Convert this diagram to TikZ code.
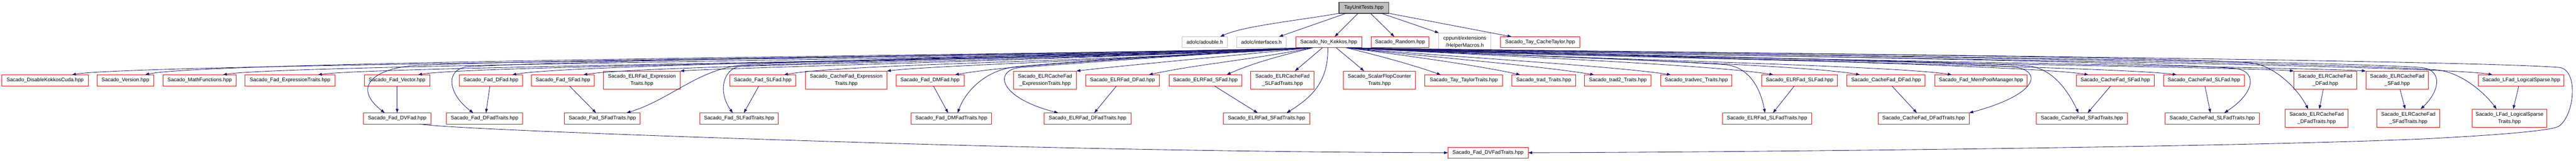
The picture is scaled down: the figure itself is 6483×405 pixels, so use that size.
\documentclass[tikz,border=0pt]{standalone}
\usepackage{fontspec}
\setmainfont{Liberation Sans}
\usetikzlibrary{arrows.meta}
\definecolor{edgeblue}{RGB}{25,25,112}
\definecolor{boxred}{RGB}{255,0,0}
\definecolor{extgrey}{RGB}{191,191,191}
\definecolor{rootfill}{RGB}{191,191,191}
\definecolor{rootline}{RGB}{64,64,64}
\tikzset{
  box/.style={draw=boxred, line width=1.2pt, fill=white, inner sep=0pt, outer sep=0pt,
    minimum height=28pt, align=center, font=\fontsize{13}{18}\selectfont},
  two/.style={minimum height=46pt},
  ext/.style={draw=extgrey},
  rootbox/.style={draw=rootline, fill=rootfill, line width=1.8pt},
  e/.style={draw=edgeblue, line width=1.1pt, -{Triangle[length=10pt,width=7pt]}}
}
\newcommand\mynode[6][]{\node[box,#1,minimum width=#5pt] (#2) at (#3,#4) {#6};}
\begin{document}
\begin{tikzpicture}[x=1pt,y=-1pt]
\fill[white] (0,0) rectangle (6483,405);
\useasboundingbox (0,0) rectangle (6483,405);

% level 0
\mynode[rootbox]{root}{3432.5}{19.5}{125}{TayUnitTests.hpp}
% level 1
\mynode[ext]{adouble}{3032}{106.5}{114}{adolc/adouble.h}
\mynode[ext]{interfaces}{3174.5}{106.5}{125}{adolc/interfaces.h}
\mynode{nk}{3344}{106.5}{166}{Sacado\_No\_Kokkos.hpp}
\mynode{random}{3523.5}{106.5}{145}{Sacado\_Random.hpp}
\mynode[ext,two]{cppunit}{3686.5}{106}{131}{cppunit/extensions\\/HelperMacros.h}
\mynode{cachetaylor}{3876}{106.5}{200}{Sacado\_Tay\_CacheTaylor.hpp}
% level 2
\mynode{n1}{113.5}{202.5}{217}{Sacado\_DisableKokkosCuda.hpp}
\mynode{n2}{315.5}{202.5}{143}{Sacado\_Version.hpp}
\mynode{n3}{502.5}{202.5}{185}{Sacado\_MathFunctions.hpp}
\mynode{n4}{730}{202.5}{226}{Sacado\_Fad\_ExpressionTraits.hpp}
\mynode{n5}{999.5}{202.5}{165}{Sacado\_Fad\_Vector.hpp}
\mynode{n6}{1235.5}{202.5}{159}{Sacado\_Fad\_DFad.hpp}
\mynode{n7}{1417}{202.5}{158}{Sacado\_Fad\_SFad.hpp}
\mynode[two]{n8}{1615.5}{202}{193}{Sacado\_ELRFad\_Expression\\Traits.hpp}
\mynode{n9}{1919.5}{202.5}{165}{Sacado\_Fad\_SLFad.hpp}
\mynode[two]{n10}{2129.5}{202}{205}{Sacado\_CacheFad\_Expression\\Traits.hpp}
\mynode{n11}{2340.5}{202.5}{171}{Sacado\_Fad\_DMFad.hpp}
\mynode[two]{n12}{2630}{202}{158}{Sacado\_ELRCacheFad\\\_ExpressionTraits.hpp}
\mynode{n13}{2825}{202.5}{186}{Sacado\_ELRFad\_DFad.hpp}
\mynode{n14}{3033.5}{202.5}{183}{Sacado\_ELRFad\_SFad.hpp}
\mynode[two]{n15}{3227.5}{202}{159}{Sacado\_ELRCacheFad\\\_SLFadTraits.hpp}
\mynode[two]{n16}{3471.5}{202}{181}{Sacado\_ScalarFlopCounter\\Traits.hpp}
\mynode{n17}{3684}{202.5}{196}{Sacado\_Tay\_TaylorTraits.hpp}
\mynode{n18}{3885}{202.5}{160}{Sacado\_trad\_Traits.hpp}
\mynode{n19}{4071.5}{202.5}{167}{Sacado\_trad2\_Traits.hpp}
\mynode{n20}{4269}{202.5}{180}{Sacado\_tradvec\_Traits.hpp}
\mynode{n21}{4529}{202.5}{190}{Sacado\_ELRFad\_SLFad.hpp}
\mynode{n22}{4746.5}{202.5}{197}{Sacado\_CacheFad\_DFad.hpp}
\mynode{n23}{4985.5}{202.5}{233}{Sacado\_Fad\_MemPoolManager.hpp}
\mynode{n24}{5323.5}{202.5}{195}{Sacado\_CacheFad\_SFad.hpp}
\mynode{n25}{5546.5}{202.5}{203}{Sacado\_CacheFad\_SLFad.hpp}
\mynode[two]{n26}{5852}{202}{158}{Sacado\_ELRCacheFad\\\_DFad.hpp}
\mynode[two]{n27}{6033}{202}{158}{Sacado\_ELRCacheFad\\\_SFad.hpp}
\mynode{n28}{6345}{202.5}{216}{Sacado\_LFad\_LogicalSparse.hpp}
% level 3
\mynode{m1}{999.5}{298.5}{169}{Sacado\_Fad\_DVFad.hpp}
\mynode{m2}{1219.5}{298.5}{191}{Sacado\_Fad\_DFadTraits.hpp}
\mynode{m3}{1516}{298.5}{190}{Sacado\_Fad\_SFadTraits.hpp}
\mynode{m4}{1860}{298.5}{198}{Sacado\_Fad\_SLFadTraits.hpp}
\mynode{m5}{2394}{298.5}{202}{Sacado\_Fad\_DMFadTraits.hpp}
\mynode{m6}{2737}{298.5}{218}{Sacado\_ELRFad\_DFadTraits.hpp}
\mynode{m7}{3187.5}{298.5}{217}{Sacado\_ELRFad\_SFadTraits.hpp}
\mynode{m8}{4447}{298.5}{224}{Sacado\_ELRFad\_SLFadTraits.hpp}
\mynode{m9}{4841}{298.5}{230}{Sacado\_CacheFad\_DFadTraits.hpp}
\mynode{m10}{5239.5}{298.5}{229}{Sacado\_CacheFad\_SFadTraits.hpp}
\mynode{m11}{5567.5}{298.5}{237}{Sacado\_CacheFad\_SLFadTraits.hpp}
\mynode[two]{m12}{5830}{298}{158}{Sacado\_ELRCacheFad\\\_DFadTraits.hpp}
\mynode[two]{m13}{6061}{298}{158}{Sacado\_ELRCacheFad\\\_SFadTraits.hpp}
\mynode[two]{m14}{6315.5}{298}{189}{Sacado\_LFad\_LogicalSparse\\Traits.hpp}
% level 4
\mynode{dvt}{3745}{385}{202}{Sacado\_Fad\_DVFadTraits.hpp}

% root edges
\draw[e] (root.south west) .. controls (3280,50) and (3130,65) .. ([xshift=39pt]adouble.north);
\draw[e] ([xshift=-44.5pt]root.south) -- ([xshift=44.5pt]interfaces.north);
\draw[e] ([xshift=-14.5pt]root.south) -- ([xshift=15pt]nk.north);
\draw[e] ([xshift=16.5pt]root.south) -- ([xshift=-14.5pt]random.north);
\draw[e] ([xshift=43.5pt]root.south) -- (cppunit.north west);
\draw[e] (root.south east) -- ([xshift=-72pt]cachetaylor.north);

% No_Kokkos -> level 2, left side
\draw[e] ([xshift=-52pt]nk.south) .. controls (2760,145) and (341,160) .. ([xshift=67.5pt]n1.north);
\draw[e] ([xshift=-50pt]nk.south) .. controls (2780,138) and (525,152) .. ([xshift=49.5pt]n2.north);
\draw[e] ([xshift=-49pt]nk.south) .. controls (2790,146) and (721,162) .. ([xshift=58.5pt]n3.north);
\draw[e] ([xshift=-48pt]nk.south) .. controls (2797,150) and (960,166) .. ([xshift=70pt]n4.north);
\draw[e] ([xshift=-47pt]nk.south) .. controls (2800,152) and (1212,162) .. ([xshift=52.5pt]n5.north);
\draw[e] ([xshift=-47pt]nk.south) .. controls (2810,142) and (1449,160) .. ([xshift=53.5pt]n6.north);
\draw[e] ([xshift=-46pt]nk.south) .. controls (2820,150) and (1628,163) .. ([xshift=51pt]n7.north);
\draw[e] ([xshift=-46pt]nk.south) .. controls (2830,146) and (1850,170) .. (n8.north east);
\draw[e] ([xshift=-45pt]nk.south) .. controls (2840,154) and (2133,160) .. ([xshift=53.5pt]n9.north);
\draw[e] ([xshift=-45pt]nk.south) .. controls (2860,150) and (2350,165) .. (n10.north east);
\draw[e] ([xshift=-44pt]nk.south) .. controls (2900,145) and (2553,162) .. ([xshift=62.5pt]n11.north);
\draw[e] ([xshift=-44pt]nk.south) .. controls (3000,150) and (2820,166) .. (n12.north east);
\draw[e] ([xshift=-43pt]nk.south) .. controls (3155,150) and (3013,162) .. ([xshift=66pt]n13.north);
\draw[e] ([xshift=-40pt]nk.south) .. controls (3223,140) and (3150,160) .. ([xshift=53.5pt]n14.north);
\draw[e] ([xshift=-16pt]nk.south) -- ([xshift=31.5pt]n15.north);
\draw[e] ([xshift=19pt]nk.south) -- ([xshift=-38.5pt]n16.north);

% No_Kokkos -> level 2, right side
\draw[e] ([xshift=44pt]nk.south) .. controls (3470,140) and (3560,165) .. ([xshift=-58pt]n17.north);
\draw[e] ([xshift=45pt]nk.south) .. controls (3540,140) and (3720,165) .. ([xshift=-59pt]n18.north);
\draw[e] ([xshift=46pt]nk.south) .. controls (3560,140) and (3870,165) .. ([xshift=-59.5pt]n19.north);
\draw[e] ([xshift=47pt]nk.south) .. controls (3600,140) and (4050,165) .. ([xshift=-64pt]n20.north);
\draw[e] ([xshift=47pt]nk.south) .. controls (3700,138) and (4303,162) .. ([xshift=-66pt]n21.north);
\draw[e] ([xshift=48pt]nk.south) .. controls (3800,142) and (4521,160) .. ([xshift=-65.5pt]n22.north);
\draw[e] ([xshift=48pt]nk.south) .. controls (3850,146) and (4752,163) .. ([xshift=-73.5pt]n23.north);
\draw[e] ([xshift=49pt]nk.south) .. controls (3891,136) and (5096,162) .. ([xshift=-67.5pt]n24.north);
\draw[e] ([xshift=49pt]nk.south) .. controls (3891,142) and (5318,166) .. ([xshift=-68.5pt]n25.north);
\draw[e] ([xshift=50pt]nk.south) .. controls (3891,146) and (5640,168) .. (n26.north west);
\draw[e] ([xshift=50pt]nk.south) .. controls (3891,140) and (5820,170) .. (n27.north west);
\draw[e] ([xshift=51pt]nk.south) .. controls (3891,136) and (6113,160) .. ([xshift=-72pt]n28.north);

% No_Kokkos -> level 3
\draw[e] ([xshift=-48pt]nk.south) .. controls (2700,140) and (1400,148) .. (1050,165) .. controls (950,170) and (880,215) .. ([xshift=-31.5pt]m1.north);
\draw[e] ([xshift=-47pt]nk.south) .. controls (2700,136) and (1500,150) .. (1180,168) .. controls (1120,171.4) and (1125,235) .. ([xshift=-28.5pt]m2.north);
\draw[e] ([xshift=-46pt]nk.south) .. controls (2800,135) and (2100,150) .. (1880,163) .. controls (1760,170) and (1690,250) .. ([xshift=61pt]m3.north);
\draw[e] ([xshift=-46pt]nk.south) .. controls (2800,140) and (2100,155) .. (1870,166) .. controls (1820,168.4) and (1805,230) .. ([xshift=-16pt]m4.north);
\draw[e] ([xshift=-45pt]nk.south) .. controls (3000,135) and (2700,155) .. (2560,168) .. controls (2480,175.4) and (2430,230) .. ([xshift=16pt]m5.north);
\draw[e] ([xshift=-44pt]nk.south) .. controls (3000,138) and (2700,160) .. (2570,170) .. controls (2500,175.4) and (2510,245) .. ([xshift=-74pt]m6.north);
\draw[e] ([xshift=-2pt]nk.south) .. controls (3342,200) and (3310,240) .. ([xshift=50.5pt]m7.north);
\draw[e] ([xshift=46pt]nk.south) .. controls (3700,135) and (4150,150) .. (4340,163) .. controls (4400,167.1) and (4430,220) .. ([xshift=-5pt]m8.north);
\draw[e] ([xshift=47pt]nk.south) .. controls (3900,135) and (4800,150) .. (5060,168) .. controls (5140,173.5) and (5140,235) .. (m9.north east);
\draw[e] ([xshift=47pt]nk.south) .. controls (3900,140) and (4850,150) .. (5100,166) .. controls (5160,169.8) and (5200,220) .. ([xshift=-8.5pt]m10.north);
\draw[e] ([xshift=48pt]nk.south) .. controls (3950,135) and (5300,150) .. (5620,172) .. controls (5680,176.1) and (5680,230) .. ([xshift=30.5pt]m11.north);
\draw[e] ([xshift=49pt]nk.south) .. controls (4000,132) and (5400,140) .. (5660,158) .. controls (5720,162.2) and (5780,220) .. ([xshift=-21pt]m12.north);
\draw[e] ([xshift=49pt]nk.south) .. controls (4000,134) and (5800,150) .. (6090,170) .. controls (6150,174.1) and (6140,230) .. ([xshift=31pt]m13.north);
\draw[e] ([xshift=50pt]nk.south) .. controls (4000,132) and (5850,155) .. (6130,176) .. controls (6190,180.5) and (6250,230) .. ([xshift=-32.5pt]m14.north);
\draw[e] ([xshift=51pt]nk.south) .. controls (4000,130) and (6200,150) .. (6440,170) .. controls (6490,174) and (6480,290) .. (6440,318) .. controls (6425,328.5) and (6300,340) .. (6100,350) .. controls (5600,372) and (4300,384) .. (dvt.east);

% level 2 -> level 3
\draw[e] (n5.south) -- (m1.north);
\draw[e] ([xshift=-2.5pt]n6.south) -- ([xshift=3.5pt]m2.north);
\draw[e] ([xshift=16pt]n7.south) -- ([xshift=-16pt]m3.north);
\draw[e] ([xshift=-9.5pt]n9.south) -- ([xshift=12pt]m4.north);
\draw[e] ([xshift=8.5pt]n11.south) -- ([xshift=-8pt]m5.north);
\draw[e] ([xshift=-15pt]n13.south) -- ([xshift=17pt]m6.north);
\draw[e] ([xshift=22.5pt]n14.south) -- ([xshift=-22.5pt]m7.north);
\draw[e] ([xshift=-13pt]n21.south) -- ([xshift=15pt]m8.north);
\draw[e] ([xshift=14.5pt]n22.south) -- ([xshift=-17pt]m9.north);
\draw[e] ([xshift=-11.5pt]n24.south) -- ([xshift=14.5pt]m10.north);
\draw[e] ([xshift=2.5pt]n25.south) -- ([xshift=-4.5pt]m11.north);
\draw[e] ([xshift=-5pt]n26.south) -- ([xshift=7pt]m12.north);
\draw[e] ([xshift=7pt]n27.south) -- ([xshift=-8pt]m13.north);
\draw[e] ([xshift=-6pt]n28.south) -- ([xshift=9.5pt]m14.north);

% level 3 -> level 4
\draw[e] ([xshift=56.5pt]m1.south) .. controls (1100,322) and (1600,342) .. (2200,360) .. controls (2800,378) and (3300,384) .. (dvt.west);
\end{tikzpicture}
\end{document}
